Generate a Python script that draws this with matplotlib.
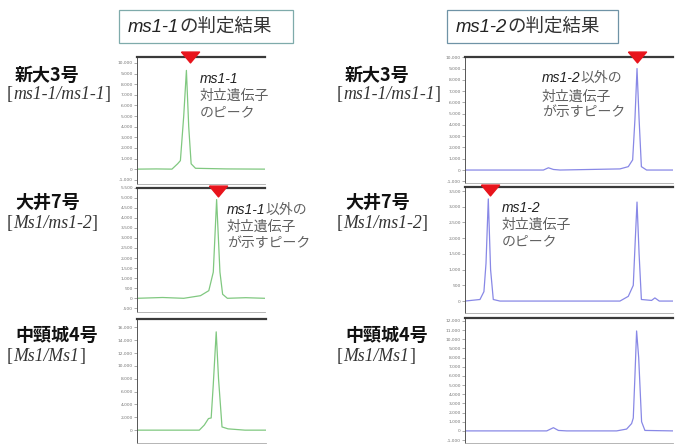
import numpy as np
import matplotlib
matplotlib.use('Agg')
from matplotlib import pyplot as plt
from matplotlib.patches import Rectangle
from matplotlib.ticker import FixedLocator, FuncFormatter
from matplotlib.path import Path
import matplotlib.transforms as mtransforms

# traces (x in % of panel width, y in signal units)
tl_x = [0, 15, 27.3, 31.7, 33.9, 36.5, 38.6, 40.4, 42.3, 45.7, 70, 100]
tl_y = [0, 20, 0, 500, 800, 5000, 9300, 4000, 500, 80, 20, 0]
ml_x = [0, 20, 36.5, 49.6, 56.1, 59.6, 62.2, 64.8, 66.9, 70.6, 85, 100]
ml_y = [0, 40, 0, 130, 380, 1300, 4900, 1300, 200, 0, 30, 0]
bl_x = [0, 48.3, 52.2, 55.4, 57.5, 59.1, 61.4, 63.2, 65.9, 70.6, 83.7, 100]
bl_y = [0, 0, 800, 1800, 1900, 7000, 15300, 8000, 500, 200, 0, 0]

tr_x = [0, 37.7, 40.1, 42.5, 45.7, 74.5, 78.5, 80.6, 81.7, 82.7, 83.7, 84.8, 87.3, 100]
tr_y = [0, 0, 200, 50, 0, 100, 300, 900, 4500, 9000, 4500, 300, 0, 0]
mr_x = [0, 7.2, 9.1, 10.1, 11.2, 12.3, 13.6, 16.8, 74.5, 78.5, 80.9, 81.9, 82.7,
        83.7, 84.8, 89.7, 91.3, 93.4, 100]
mr_y = [0, 50, 300, 1200, 3250, 1000, 50, 0, 0, 150, 500, 2000, 3150,
        1500, 50, 20, 100, 0, 0]
br_x = [0, 39.3, 42.5, 44.9, 48.9, 72.9, 77.7, 80.1, 80.9, 81.7, 82.5, 83.5, 84.9, 86.5, 100]
br_y = [0, 0, 350, 50, 0, 0, 200, 800, 1400, 6000, 10900, 8000, 1000, 50, 0]

# y ticks of each panel
tl_ticks = list(range(-1000, 10001, 1000))
ml_ticks = list(range(-500, 5501, 500))
bl_ticks = list(range(0, 16001, 2000))
tr_ticks = list(range(-1000, 10001, 1000))
mr_ticks = list(range(0, 3501, 500))
br_ticks = list(range(-1000, 12001, 1000))

# peak markers (x in % of panel width)
tl_mark = 41.3
ml_mark = 63.5
tr_mark = 82.7
mr_mark = 11.8

col_titles = ['ms1-1', 'ms1-2']
row_names = ['新大3号', '大井7号', '中頸城4号']
row_genos = [['[', 'ms1-1/ms1-1', ']'], ['[', 'Ms1/ms1-2', ']'], ['[', 'Ms1/Ms1', ']']]

W, H = 682, 444
fig = plt.figure(figsize=(W / 100, H / 100), dpi=100)
fig.patch.set_facecolor('white')

jp = ['Noto Sans CJK JP', 'DejaVu Sans']
green = '#80c880'
blue = '#8888e6'


def panel(px, color, xs, ys, ticks, ylim, mark=None, mark_y=1.0):
    x0, y0, x1, y1 = px
    ax = fig.add_axes([x0 / W, 1 - y1 / H, (x1 - x0) / W, (y1 - y0) / H])
    ax.plot(xs, ys, color=color, lw=0.9)
    ax.set_xlim(0, 100)
    ax.set_ylim(*ylim)
    ax.set_xticks([])
    ax.yaxis.set_major_locator(FixedLocator(ticks))
    ax.yaxis.set_major_formatter(FuncFormatter(lambda v, p: f'{v:,.0f}'))
    ax.tick_params(axis='y', labelsize=3.2, labelcolor='#777777', color='#888888',
                   length=2, width=0.5, pad=1)
    ax.spines['right'].set_visible(False)
    ax.spines['top'].set_color('#3a3a3a')
    ax.spines['top'].set_linewidth(1.6)
    ax.spines['left'].set_color('#555555')
    ax.spines['left'].set_linewidth(0.7)
    ax.spines['bottom'].set_color('#aaaaaa')
    ax.spines['bottom'].set_linewidth(0.6)
    if mark is not None:
        tri = Path([(-1, 0.6), (1, 0.6), (0, -0.6), (-1, 0.6)])
        tr = mtransforms.blended_transform_factory(ax.transData, ax.transAxes)
        ax.plot([mark], [mark_y], marker=tri, color='#e8141c', ms=13,
                transform=tr, clip_on=False, zorder=5)
    return ax


panel((137, 57, 265, 184), green, tl_x, tl_y, tl_ticks, (-1400, 10560), tl_mark)
panel((137, 187.5, 265, 312), green, ml_x, ml_y, ml_ticks, (-680, 5500), ml_mark, 0.975)
panel((137, 319, 266, 443), green, bl_x, bl_y, bl_ticks, (-2000, 17300))
panel((465, 56.7, 673, 183), blue, tr_x, tr_y, tr_ticks, (-1150, 10050), tr_mark)
panel((465, 187.3, 673, 313), blue, mr_x, mr_y, mr_ticks, (-380, 3620), mr_mark, 0.98)
panel((465, 317.5, 673, 443), blue, br_x, br_y, br_ticks, (-1320, 12370))

# overlay in pixel coordinates for the texts
ov = fig.add_axes([0, 0, 1, 1])
ov.set_xlim(0, W)
ov.set_ylim(H, 0)
ov.axis('off')
renderer = fig.canvas.get_renderer()


def chain(x, y, pieces):
    # pieces: (text, kwargs) placed one after another on one baseline
    for s, kw in pieces:
        t = ov.text(x, y, s, va='baseline', ha='left', **kw)
        bb = t.get_window_extent(renderer)
        x += bb.width


# title boxes
for (bx0, bx1, ec), name in zip([(119, 293, '#7fabab'), (447, 618, '#6f93a6')], col_titles):
    ov.add_patch(Rectangle((bx0, 10), bx1 - bx0, 33, fill=False, ec=ec, lw=0.9))
    chain(bx0 + 9, 32, [(name, dict(family='Liberation Sans', style='italic', size=13.3, color='#222222')),
                        ('の判定結果', dict(family=jp, size=13.3, color='#333333'))])

# row labels
serif = dict(family='Liberation Serif', size=12.8, color='#333333')
serif_it = dict(family='Liberation Serif', style='italic', size=12.8, color='#333333')
for cx in (15, 345):
    for yb, ys, name, geno in zip([81, 208, 341], [99, 228, 361], row_names, row_genos):
        ov.text(cx, yb, name, family=jp, weight='bold', size=13, color='#111111', va='baseline')
        chain(cx - 8 if cx > 100 else 7, ys,
              [(geno[0], serif), (geno[1], serif_it), (geno[2], serif)])

# peak notes
it = dict(family='Liberation Sans', style='italic', size=10, color='#222222')
gr = dict(family=jp, size=10, color='#606060')
chain(200, 83, [('ms1-1', it)])
chain(200, 100, [('対立遺伝子', gr)])
chain(200, 116, [('のピーク', gr)])
chain(227, 214, [('ms1-1', it), ('以外の', gr)])
chain(227, 231, [('対立遺伝子', gr)])
chain(227, 247, [('が示すピーク', gr)])
chain(542, 82, [('ms1-2', it), ('以外の', gr)])
chain(542, 101, [('対立遺伝子', gr)])
chain(542, 116, [('が示すピーク', gr)])
chain(502, 212, [('ms1-2', it)])
chain(502, 229, [('対立遺伝子', gr)])
chain(502, 245, [('のピーク', gr)])

plt.savefig('out.png', dpi=100)
